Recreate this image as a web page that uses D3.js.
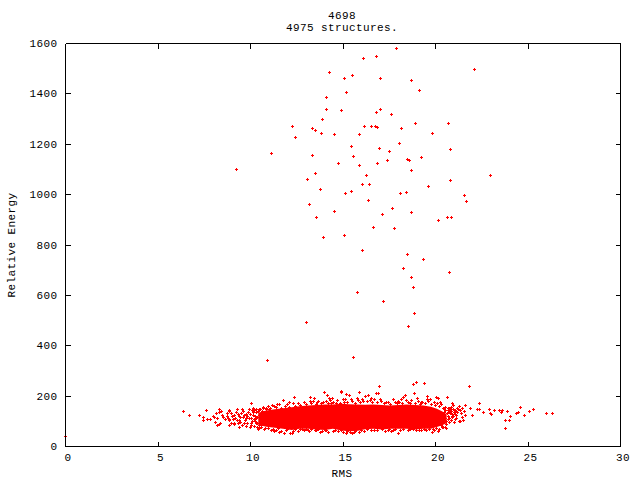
<!DOCTYPE html>
<html><head><meta charset="utf-8">
<script src="https://cdn.jsdelivr.net/npm/d3@7"></script>
<style>
html,body{margin:0;padding:0;background:#fff}
svg{display:block}
text{font-family:"Liberation Mono",monospace;font-size:11px;letter-spacing:.4px;fill:#000}
</style></head><body>
<script>
const titleLines = ["4698", "4975 structures."];
const xLabel = "RMS";
const yLabel = "Relative Energy";
const xTicks = [0,5,10,15,20,25,30];
const yTicks = [0,200,400,600,800,1000,1200,1400,1600];

// Scattered high-energy structures [RMS, energy]
const upperPoints = [
[14.26,1483],[15.07,1463],[15.50,1471],[15.18,1404],[14.10,1384],[14.10,1337],[14.91,1333],[13.88,1297],[12.26,1269],[13.34,1261],
[13.50,1253],[13.83,1241],[14.53,1237],[15.88,1237],[12.42,1225],[15.45,1190],[11.12,1162],[13.34,1154],[15.56,1150],[14.75,1122],
[15.88,1114],[9.23,1098],[13.50,1082],[13.07,1059],[13.77,1019],[15.12,1003],[15.45,1011],[13.18,959],
[17.88,1579],[16.10,1539],[16.80,1547],[22.10,1495],[17.02,1460],[18.69,1452],[19.12,1412],[16.80,1325],[17.02,1337],[17.61,1317],
[16.15,1269],[16.53,1269],[16.75,1269],[16.85,1265],[18.15,1261],[18.91,1281],[20.69,1281],[19.83,1241],[16.96,1182],[17.50,1170],
[18.04,1201],[20.80,1178],[16.85,1122],[17.39,1134],[18.47,1138],[18.58,1134],[19.23,1146],[16.26,1075],[18.69,1094],[22.96,1075],
[16.04,1039],[16.42,1039],[20.80,1055],[19.61,1031],[18.10,1003],[18.42,1007],[21.56,995],[21.66,971],[16.37,975],[17.66,943],
[14.53,932],[13.56,908],[13.94,829],[15.07,837],[15.77,610],[13.02,491],[10.91,340],[15.56,352],
[17.12,920],[18.69,928],[20.15,896],[20.64,908],[20.85,908],[16.64,868],[17.77,864],[16.04,777],[18.47,761],[19.34,741],
[18.26,705],[20.75,690],[18.69,670],[18.80,630],[17.18,574],[18.85,527],[18.53,475]
];

// Left tail and single clipped point on the axis
const leftTail = [
[0,41],[6.37,138],[6.69,122],[7.23,122],[7.45,114],[7.45,102],[7.61,142],[7.66,106],[7.83,106],[7.99,118],[8.05,114],[8.10,94],
[8.15,130],[8.21,110],[8.21,82],[8.31,146],[8.31,134],[8.42,138],[8.31,86],[8.37,90],[8.48,122],[8.53,114],[8.64,106],
[8.75,130],[8.75,118],[8.80,110],[8.85,142],[8.85,102],[8.85,82]
];

// Edge of the dense band, lower RMS half
const bandEdgeLeft = [
[8.84,140],[8.76,119],[8.87,106],[8.66,106],[8.87,82],[9.16,93],[9.30,148],[9.56,148],[9.41,103],[9.41,74],[9.52,130],[9.16,123],
[8.98,130],[9.70,93],[9.79,79],[9.88,136],[10.06,172],[9.79,110],[10.06,83],[10.24,143],[10.42,66],[10.33,110],[10.75,66],[10.69,156],
[10.93,130],[11.32,159],[11.47,167],[11.29,61],[11.59,57],[11.83,53],[11.77,183],[12.10,176],[12.37,193],[12.15,53],[12.26,53],[12.49,70],
[12.82,66],[13.23,193],[13.23,180],[13.45,189],[13.13,64],[13.63,176],[13.76,57],[13.99,216],[14.15,204],[14.26,189],[14.42,189],[13.94,176],
[14.91,216],[15.07,176],[14.57,64],[14.93,66],[10.60,83],[10.96,97],[9.43,119],[9.25,136],[9.07,106],[9.61,116],[10.51,146],[10.87,146],
[11.05,146],[13.49,64],[14.03,64],[14.39,172],[14.66,169],[9.20,110],[9.35,90],[9.48,115],[9.65,125],[9.85,120],[9.95,145],[10.15,150],
[10.30,90],[10.55,148],[10.70,150],
[8.95,90],[9.02,118],[9.12,86],[9.28,102],[9.34,126],[9.45,94],[9.58,84],[9.62,138],[9.72,104],[9.76,128],[9.83,90],[9.92,110],[9.98,76],
[10.02,128],[10.10,100],[10.12,142],[10.20,78],[10.26,120],[10.34,134],[10.38,92],[10.46,124],[10.50,72],[10.58,106],[10.64,138],[10.72,96],
[10.04,112],[10.08,90],[10.14,122],[10.18,134],[10.22,106],[10.28,98],[10.32,146],[10.36,74],[10.40,114],[10.44,140],[10.48,84],[10.52,98],[10.56,128],[10.62,76],[10.66,116]
];

// Edge of the dense band, upper RMS half
const bandEdgeRight = [
[14.91,217],[15.18,205],[15.34,201],[15.13,185],[15.45,185],[15.89,213],[16.21,197],[16.37,201],[16.97,237],[16.80,209],[16.91,209],
[18.80,245],[18.97,254],[19.40,249],[18.37,201],[18.26,193],[18.16,185],[18.86,209],[19.02,189],[19.56,197],[19.56,185],[20.05,193],
[20.16,189],[20.64,193],[19.72,185],[20.26,173],[20.91,169],[20.97,161],[21.29,157],[15.83,183],[16.10,180],[16.46,183],[17.00,185],
[17.36,176],[17.72,185],[17.99,180],[18.44,183],[19.25,176],[15.18,50],[15.40,54],[15.61,57],[15.89,54],[14.91,64],[16.70,64],
[17.54,66],[17.63,61],[17.99,50],[18.80,66],[19.13,62],[19.83,54],[20.16,58],[20.53,74],[20.37,74],[19.89,66],[20.80,130],
[20.80,146],[21.07,106],[21.29,98],[20.91,114],[20.60,100],[20.70,120],[20.85,155],[20.50,150],[20.40,92],[20.30,85],
[20.48,136],[20.52,112],[20.56,142],[20.62,86],[20.66,130],[20.70,150],[20.74,94],[20.78,112],[20.84,138],[20.88,104],[20.92,128],[20.96,146],[21.00,118],[21.04,134],[21.10,142],[21.14,124],[21.18,150],[20.44,100],[20.36,118],[20.76,136]
];

// Ragged fringe on the top of the band
const fringeTop = [
[10.85,152],[10.98,158],[11.10,150],[11.20,163],[11.42,155],[11.55,166],[11.68,152],[11.90,160],[12.00,168],[12.12,155],[12.30,172],[12.45,160],
[12.58,170],[12.70,163],[12.92,174],[13.04,167],[13.30,170],[13.40,178],[13.58,168],[13.70,180],[13.86,172],[14.10,178],[14.22,170],[14.34,184],
[14.50,175],[14.72,182],[14.84,172],[15.00,186],[15.24,176],[15.52,180],[15.66,172],[15.76,190],[15.96,176],[16.04,186],[16.30,178],[16.52,190],
[16.62,174],[16.72,186],[16.88,176],[17.10,178],[17.22,170],[17.46,174],[17.56,168],[17.84,176],[17.92,170],[18.05,174],[18.22,172],[18.52,176],
[18.64,170],[18.72,182],[18.90,172],[19.08,178],[19.18,168],[19.32,176],[19.48,170],[19.64,178],[19.80,168],[19.92,176],[20.00,162],[20.12,170],
[20.22,158],[20.34,166],[20.44,150],[20.55,156],[20.68,142],[20.76,150]
];

// Ragged fringe on the bottom of the band
const fringeBottom = [
[10.82,70],[10.98,72],[11.12,64],[11.22,68],[11.40,62],[11.52,70],[11.66,58],[11.92,62],[12.02,66],[12.34,60],[12.42,68],[12.58,58],[12.72,66],
[12.94,62],[13.04,68],[13.18,58],[13.32,66],[13.58,62],[13.68,68],[13.88,58],[14.12,62],[14.22,56],[14.50,60],[14.74,58],[15.02,56],[15.26,60],
[15.50,52],[15.70,58],[16.02,62],[16.14,58],[16.30,66],[16.52,62],[16.86,62],[17.12,66],[17.28,60],[17.46,64],[17.74,62],[17.84,68],[18.12,64],
[18.28,68],[18.56,62],[18.66,68],[18.96,64],[19.22,64],[19.38,68],[19.52,62],[19.66,68],[19.96,62],[20.08,70],[20.24,68],[20.42,76],[20.60,72]
];

// Right tail
const rightTail = [
[21.82,237],[21.28,157],[21.61,161],[21.88,150],[22.37,169],[22.26,146],[22.37,146],[22.58,134],[22.91,146],[22.96,130],[23.01,126],
[23.18,142],[23.45,142],[23.55,134],[23.61,142],[23.88,138],[24.04,118],[23.77,103],[23.99,103],[23.77,70],[24.37,130],[24.47,134],
[24.58,153],[24.80,122],[25.07,138],[25.28,146],[25.99,130],[26.31,130],[21.39,130],[21.55,138],[21.61,122],[21.45,114],[21.99,122],
[21.34,98],[21.50,103],[21.45,150],[21.15,140],[21.20,135],[21.08,126],[21.00,146],[20.94,120],[21.12,112],[21.25,148],[21.36,142],[21.05,96],[20.72,106]
];

// Solid core of the cloud: RMS and lower/upper energy
const coreRms  = [10.42,10.85,11.32,11.75,12.23,12.65,13.12,13.55,14.03,14.45,14.93,15.30,15.74,16.20,16.64,17.10,17.54,18.00,18.44,18.90,19.34,19.75,20.07,20.35,20.60];
const coreLow  = [86,78,74,70,66,70,70,67,66,70,64,61,62,68,70,67,70,70,70,67,70,70,77,84,92];
const coreHigh = [134,143,148,152,156,160,163,165,167,167,170,168,167,166,167,165,163,165,167,165,163,158,150,140,128];

const W = 640, H = 480;
const x = d3.scaleLinear().domain([0,30]).range([65.5,620.5]);
const y = d3.scaleLinear().domain([0,1600]).range([446.5,43.5]);

const svg = d3.select("body").append("svg").attr("width",W).attr("height",H);

const coreData = coreRms.map((r,i)=>({r,lo:coreLow[i],hi:coreHigh[i]}));
svg.append("path").datum(coreData)
  .attr("fill","#f00")
  .attr("d",d3.area().x(d=>x(d.r)).y0(d=>y(d.lo)).y1(d=>y(d.hi)));

const allPoints = [...upperPoints,...leftTail,...bandEdgeLeft,...bandEdgeRight,...fringeTop,...fringeBottom,...rightTail];
const plus = d=>{
  const px=Math.floor(x(d[0]))+.5, py=Math.floor(y(d[1]))+.5;
  return `M${px-1.5},${py}H${px+1.5}M${px},${py-1.5}V${py+1.5}`;
};
svg.append("path")
  .attr("fill","none").attr("stroke","#f00").attr("stroke-width",1)
  .attr("shape-rendering","crispEdges")
  .attr("d",allPoints.map(plus).join(""));

function style(g){
  g.selectAll(".domain,.tick line").attr("stroke","#000").attr("stroke-width",1).attr("shape-rendering","crispEdges");
  g.selectAll("text").attr("fill","#000");
  g.attr("font-family",null).attr("font-size",null);
}
const ax = svg.append("g");
ax.append("g").attr("transform",`translate(0,${y(0)})`)
  .call(d3.axisBottom(x).offset(0).tickValues(xTicks).tickFormat(d3.format("d")).tickSizeInner(-5).tickSizeOuter(0).tickPadding(7)).call(style)
  .selectAll("text").attr("dx",2.5);
ax.append("g").attr("transform",`translate(0,${y(1600)})`)
  .call(d3.axisTop(x).offset(0).tickValues(xTicks).tickFormat("").tickSizeInner(-5).tickSizeOuter(0)).call(style);
ax.append("g").attr("transform",`translate(${x(0)},0)`)
  .call(d3.axisLeft(y).offset(0).tickValues(yTicks).tickFormat(d3.format("d")).tickSizeInner(-5).tickSizeOuter(0).tickPadding(8)).call(style);
ax.append("g").attr("transform",`translate(${x(30)},0)`)
  .call(d3.axisRight(y).offset(0).tickValues(yTicks).tickFormat("").tickSizeInner(-5).tickSizeOuter(0)).call(style);

svg.selectAll(".title").data(titleLines).enter().append("text").attr("class","title")
  .attr("x",342).attr("y",(d,i)=>19+i*11.5).attr("text-anchor","middle").text(d=>d);
svg.append("text").attr("x",342).attr("y",477).attr("text-anchor","middle").text(xLabel);
svg.append("text").attr("transform","translate(15,245) rotate(-90)").attr("text-anchor","middle").text(yLabel);
</script>
</body></html>
